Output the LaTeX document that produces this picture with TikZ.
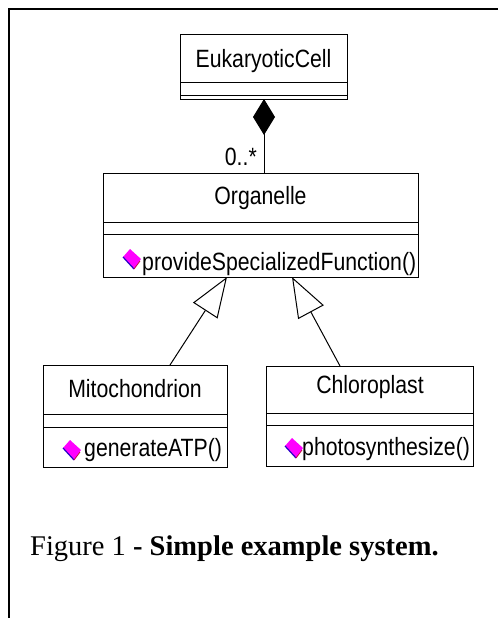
\documentclass[tikz,border=0pt]{standalone}
\usepackage{fontspec}
\setmainfont{Liberation Serif}
\newfontfamily\umlfont[FakeStretch=0.85]{Liberation Sans}
\usetikzlibrary{arrows.meta}

\definecolor{opfill}{RGB}{255,0,255}
\definecolor{opedge}{RGB}{40,0,200}
\definecolor{opshade}{RGB}{200,0,60}

\tikzset{
  classbox/.style={draw, line width=1pt, rectangle, anchor=north west,
                   inner sep=0pt, outer sep=0pt},
  umltext/.style={font=\umlfont\fontsize{25pt}{29pt}\selectfont, inner sep=0pt},
  nametext/.style={umltext, anchor=base},
  optext/.style={umltext, anchor=base west},
  uml/.style={line width=1pt},
  composition/.style={uml, -{Diamond[length=36pt, width=22pt]}},
  generalization/.style={uml, -{Triangle[open, length=40pt, width=29pt, fill=white]}},
  opicon/.pic={
    \fill[opfill] (0,0) -- (7,-8) -- (18,2) -- (11,12) -- cycle;
    \draw[opedge, line width=1.2pt] (0,0) -- (11,12);
    \draw[opshade, line width=0.8pt] (11,12) -- (17,4);
  }
}

\begin{document}
\begin{tikzpicture}[x=1pt, y=-1pt]
  \useasboundingbox (0,0) rectangle (498,618);

  % page frame
  \draw[line width=2pt] (9,618) -- (9,9) -- (498,9);

  % class EukaryoticCell
  \node[classbox, minimum width=167pt, minimum height=64pt] (cell) at (180,35) {};
  \draw[uml] ([yshift=-47pt]cell.north west) -- ([yshift=-47pt]cell.north east);
  \draw[uml] ([yshift=-60pt]cell.north west) -- ([yshift=-60pt]cell.north east);
  \node[nametext] (cellname) at (263.5,67) {EukaryoticCell};

  % class Organelle
  \node[classbox, minimum width=315pt, minimum height=104pt] (org) at (103,173) {};
  \draw[uml] ([yshift=-49pt]org.north west) -- ([yshift=-49pt]org.north east);
  \draw[uml] ([yshift=-61pt]org.north west) -- ([yshift=-61pt]org.north east);
  \node[nametext] (orgname) at (260.5,204) {Organelle};
  \pic at (123,257) {opicon};
  \node[optext] (orgop) at (142,270) {provideSpecializedFunction()};

  % class Mitochondrion
  \node[classbox, minimum width=184pt, minimum height=102pt] (mito) at (43,365) {};
  \draw[uml] ([yshift=-49pt]mito.north west) -- ([yshift=-49pt]mito.north east);
  \draw[uml] ([yshift=-62pt]mito.north west) -- ([yshift=-62pt]mito.north east);
  \node[nametext] (mitoname) at (135,397) {Mitochondrion};
  \pic at (63,448) {opicon};
  \node[optext] (mitoop) at (84,456) {generateATP()};

  % class Chloroplast
  \node[classbox, minimum width=207pt, minimum height=100pt] (chloro) at (266,366) {};
  \draw[uml] ([yshift=-47pt]chloro.north west) -- ([yshift=-47pt]chloro.north east);
  \draw[uml] ([yshift=-59pt]chloro.north west) -- ([yshift=-59pt]chloro.north east);
  \node[nametext] (chloroname) at (370,393) {Chloroplast};
  \pic at (285,446) {opicon};
  \node[optext] (chloroop) at (302,455) {photosynthesize()};

  % composition: EukaryoticCell contains Organelles
  \draw[composition] ([xshift=3.5pt]org.north) -- ([xshift=0.5pt]cell.south);
  \node[umltext, anchor=base east] (mult) at (257,165) {0..*};

  % generalizations
  \draw[generalization] ([xshift=35pt]mito.north) -- ([xshift=-33.5pt]org.south);
  \draw[generalization] ([xshift=-29.5pt]chloro.north) -- ([xshift=31.5pt]org.south);

  % caption
  \node[anchor=base west, inner sep=0pt, font=\fontsize{28.5pt}{34pt}\selectfont]
    (caption) at (30,555) {Figure 1 \textbf{- Simple example system.}};
\end{tikzpicture}
\end{document}
